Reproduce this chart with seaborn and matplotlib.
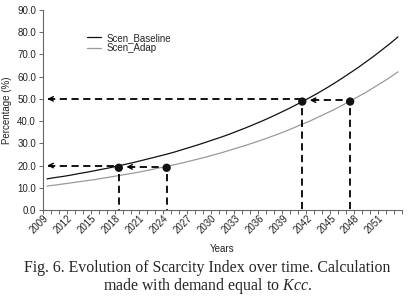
import numpy as np
import pandas as pd
import matplotlib
matplotlib.use("Agg")
import matplotlib.pyplot as plt
import matplotlib.transforms as mtransforms
import seaborn as sns
from matplotlib.ticker import FixedLocator, FormatStrFormatter

# Data
years = list(range(2009, 2054))
scen_baseline = [14.0, 14.6, 15.1, 15.7, 16.4, 17.0, 17.7, 18.4, 19.1, 19.9,
                 20.7, 21.5, 22.4, 23.3, 24.2, 25.1, 26.1, 27.2, 28.3, 29.4,
                 30.6, 31.8, 33.0, 34.3, 35.7, 37.1, 38.6, 40.1, 41.7, 43.4,
                 45.1, 46.9, 48.8, 50.7, 52.7, 54.8, 57.0, 59.3, 61.7, 64.1,
                 66.7, 69.3, 72.1, 74.9, 77.9]
scen_adap = [10.8, 11.2, 11.7, 12.2, 12.7, 13.2, 13.7, 14.3, 14.9, 15.5,
             16.1, 16.7, 17.4, 18.1, 18.9, 19.6, 20.4, 21.2, 22.1, 23.0,
             23.9, 24.9, 25.9, 27.0, 28.1, 29.2, 30.4, 31.6, 32.9, 34.2,
             35.6, 37.1, 38.6, 40.1, 41.8, 43.5, 45.2, 47.1, 49.0, 51.0,
             53.0, 55.2, 57.4, 59.7, 62.2]
mark_years = [2018, 2024, 2041, 2047]
mark_values = [19.0, 19.0, 48.8, 48.8]
ref_levels = [20.0, 50.0]
label_years = list(range(2009, 2052, 3))

df = pd.DataFrame({"Year": years * 2,
                   "Value": scen_baseline + scen_adap,
                   "Scenario": ["Scen_Baseline"] * len(years) + ["Scen_Adap"] * len(years)})
pts = pd.DataFrame({"Year": mark_years, "Value": mark_values})

sns.set_style("ticks")
plt.rcParams['font.family'] = ['Liberation Sans', 'DejaVu Sans']
plt.rcParams['mathtext.fontset'] = 'custom'
plt.rcParams['mathtext.it'] = 'Liberation Serif:italic'
plt.rcParams['mathtext.rm'] = 'Liberation Serif'

fig = plt.figure(figsize=(4.14, 3.03), dpi=100)
ax = fig.add_axes([43 / 414, 1 - 210 / 303, 359 / 414, 200 / 303])

sns.lineplot(data=df, x="Year", y="Value", hue="Scenario",
             palette={"Scen_Baseline": "#111111", "Scen_Adap": "#9a9a9a"},
             linewidth=0.9, ax=ax)

# Dashed guide lines
dash = dict(color="black", linestyle=(0, (4, 2.5)), linewidth=1.3, zorder=3)
x0 = 2008.5
ax.plot([x0 + 0.6, mark_years[0]], [ref_levels[0]] * 2, **dash)
ax.plot([mark_years[0] + 1.2, mark_years[1]], [ref_levels[0] - 0.6] * 2, **dash)
ax.plot([x0 + 0.6, mark_years[2]], [ref_levels[1]] * 2, **dash)
ax.plot([mark_years[2] + 1.2, mark_years[3]], [ref_levels[1] - 0.6] * 2, **dash)
for yr, v in zip(mark_years, mark_values):
    ax.plot([yr, yr], [v - 3, 0], **dash)

arrow = dict(arrowstyle="->", color="black", lw=1.0, mutation_scale=8)
ax.annotate("", xy=(x0 + 0.2, ref_levels[0]), xytext=(x0 + 1.5, ref_levels[0]), arrowprops=arrow)
ax.annotate("", xy=(x0 + 0.2, ref_levels[1]), xytext=(x0 + 1.5, ref_levels[1]), arrowprops=arrow)
ax.annotate("", xy=(mark_years[0] + 0.6, ref_levels[0] - 0.6),
            xytext=(mark_years[0] + 2.0, ref_levels[0] - 0.6), arrowprops=arrow)
ax.annotate("", xy=(mark_years[2] + 0.6, ref_levels[1] - 0.6),
            xytext=(mark_years[2] + 2.0, ref_levels[1] - 0.6), arrowprops=arrow)

sns.scatterplot(data=pts, x="Year", y="Value", color="#111111", s=36,
                edgecolor="none", zorder=5, ax=ax, legend=False)

# Axes
ax.set_xlim(2008.5, 2053.5)
ax.set_ylim(0, 90)
ax.set_yticks(np.arange(0, 91, 10))
ax.yaxis.set_major_formatter(FormatStrFormatter("%.1f"))
ax.set_xticks(label_years)
ax.set_xticklabels([str(y) for y in label_years], rotation=45, ha="right",
                   va="center", rotation_mode="anchor")
shift = mtransforms.ScaledTranslation(5 / 72, 0, fig.dpi_scale_trans)
for lbl in ax.get_xticklabels():
    lbl.set_transform(lbl.get_transform() + shift)
ax.xaxis.set_minor_locator(FixedLocator(np.arange(2008.5, 2054, 1.0)))
ax.tick_params(axis="x", which="major", length=0, pad=5, labelsize=7, colors="#222222")
ax.tick_params(axis="x", which="minor", length=3, width=0.7, color="#666666")
ax.tick_params(axis="y", length=3, width=0.7, color="#666666", labelsize=7,
               labelcolor="#222222", pad=2)
for s in ["left", "bottom"]:
    ax.spines[s].set_color("#666666")
    ax.spines[s].set_linewidth(0.8)
sns.despine(ax=ax)

ax.set_xlabel("Years", fontsize=7, color="#222222", labelpad=6)
ax.set_ylabel("Percentage (%)", fontsize=7, color="#222222", labelpad=4)

leg = ax.legend(loc="upper left", bbox_to_anchor=(0.11, 0.91), frameon=False,
                fontsize=7, handlelength=1.4, handletextpad=0.6, labelspacing=0.05,
                borderpad=0)

fig.text(0.5, 1 - 268 / 303, "Fig. 6. Evolution of Scarcity Index over time. Calculation",
         ha="center", va="center", fontsize=11.4, family="Liberation Serif")
fig.text(0.5, 1 - 286 / 303, "made with demand equal to $\\mathit{Kcc}$.",
         ha="center", va="center", fontsize=11.4, family="Liberation Serif")

fig.savefig("out.png", dpi=100)
